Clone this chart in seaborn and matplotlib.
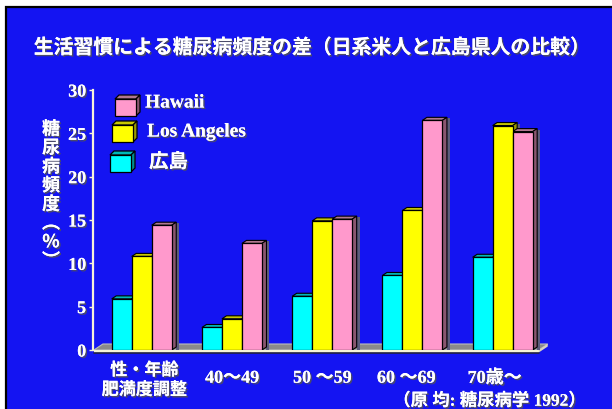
import numpy as np
import pandas as pd
import matplotlib
matplotlib.use("Agg")
import matplotlib.pyplot as plt
import matplotlib.patheffects as pe
from matplotlib.patches import Polygon, Rectangle
from matplotlib.colors import to_hex
import seaborn as sns

# ---- data ----
groups = ["性・年齢\n肥満度調整", "40〜49", "50 〜59", "60 〜69", "70歳〜"]
hiroshima = [5.9, 2.6, 6.2, 8.6, 10.7]
los_angeles = [10.8, 3.6, 14.9, 16.1, 25.9]
hawaii = [14.4, 12.3, 15.1, 26.5, 25.2]
series_names = ["広島", "Los Angeles", "Hawaii"]
legend_order = ["Hawaii", "Los Angeles", "広島"]
yticks = [0, 5, 10, 15, 20, 25, 30]
title = "生活習慣による糖尿病頻度の差（日系米人と広島県人の比較）"
ylabel_chars = list("糖尿病頻度︵%︶")
source = "（原 均: 糖尿病学 1992）"

df = pd.DataFrame({
    "group": groups * 3,
    "series": np.repeat(series_names, len(groups)),
    "value": hiroshima + los_angeles + hawaii,
})

# ---- styling ----
BLUE = "#1414F2"
front = {"広島": "#00FFFF", "Los Angeles": "#FFFF00", "Hawaii": "#FF99CC"}
top = {"広島": "#00B8B8", "Los Angeles": "#C8C800", "Hawaii": "#B07890"}
side = {"広島": "#008C8C", "Los Angeles": "#9A9A00", "Hawaii": "#8A5670"}
CREAM = "#F6F2D8"

sns.set_theme(style="white")
plt.rcParams["font.family"] = ["Liberation Serif", "Noto Sans CJK JP", "DejaVu Sans"]
plt.rcParams["font.weight"] = "bold"

W, H = 612, 410
fig = plt.figure(figsize=(W / 100, H / 100), dpi=100)
fig.patch.set_facecolor("white")

# slide background
fig.add_artist(Rectangle((6 / W, -0.02), 1.05, (H - 8) / H + 0.02,
                         transform=fig.transFigure, facecolor=BLUE,
                         edgecolor="black", linewidth=1.6, zorder=0))

shadow = [pe.withSimplePatchShadow(offset=(1.1, -1.1), shadow_rgbFace="#4a4a6a", alpha=1.0),
          pe.Normal()]
cjk = ["Noto Sans CJK JP", "DejaVu Sans"]
mixed = ["Liberation Serif", "Noto Sans CJK JP", "DejaVu Sans"]

def px(x, y):
    """image pixel coordinates (origin top-left) -> figure fraction"""
    return x / W, 1 - y / H

fig.text(*px(312, 48), title, ha="center", va="center", color="white",
         fontsize=14.3, fontweight="bold", family=cjk, path_effects=shadow)

ax = fig.add_axes([93 / W, 59 / H, 462 / W, 260 / H])
ax.patch.set_alpha(0)

sns.barplot(data=df, x="group", y="value", hue="series", order=groups,
            hue_order=series_names, palette=front, saturation=1, width=0.665,
            edgecolor="black", linewidth=0.9, legend=False, ax=ax, zorder=3)

ax.set_xlim(-0.54, 4.58)
ax.set_ylim(0, 30)

sx = ax.bbox.width / (ax.get_xlim()[1] - ax.get_xlim()[0])
sy = ax.bbox.height / (ax.get_ylim()[1] - ax.get_ylim()[0])
dx, dy = 4.5 / sx, 3.0 / sy

# floor
fl, fr = -0.53, 4.4
fdx, fdy = 9 / sx, 6 / sy
ax.add_patch(Polygon([(fl, 0), (fl + fdx, fdy), (fr + fdx, fdy), (fr, 0)],
                     closed=True, facecolor="#8a8a8a", edgecolor="#bdbdbd",
                     linewidth=0.8, zorder=1, clip_on=False))
ax.add_patch(Rectangle((fl, -2.5 / sy), fr - fl, 2.5 / sy, facecolor=CREAM,
                       edgecolor="none", zorder=1.2, clip_on=False))
ax.add_patch(Polygon([(fr, -2.5 / sy), (fr + fdx, fdy - 2.5 / sy), (fr + fdx, fdy), (fr, 0)],
                     closed=True, facecolor="#d8d4c0", edgecolor="none", zorder=1.2, clip_on=False))
ax.plot([fl, fr], [-3.2 / sy, -3.2 / sy], color="#202040", lw=1.2, zorder=1.2, clip_on=False)

# 3D faces for each bar
color_to_name = {to_hex(c).lower(): n for n, c in front.items()}
for bar in list(ax.patches):
    if not isinstance(bar, Rectangle) or bar.get_height() <= 0:
        continue
    name = color_to_name.get(to_hex(bar.get_facecolor()).lower())
    if name is None:
        continue
    x, w, h = bar.get_x(), bar.get_width(), bar.get_height()
    ax.add_patch(Rectangle((x + w + dx, 0), 3 / sx, h + dy - 1 / sy, facecolor="#5c5c7c",
                           edgecolor="none", zorder=1.5))
    ax.add_patch(Polygon([(x, h), (x + dx, h + dy), (x + w + dx, h + dy), (x + w, h)],
                         closed=True, facecolor=top[name], edgecolor="black",
                         linewidth=0.8, zorder=2))
    ax.add_patch(Polygon([(x + w, 0), (x + w + dx, dy), (x + w + dx, h + dy), (x + w, h)],
                         closed=True, facecolor=side[name], edgecolor="black",
                         linewidth=0.8, zorder=2))

# axes styling
for s in ["top", "right", "bottom"]:
    ax.spines[s].set_visible(False)
ax.spines["left"].set_color(CREAM)
ax.spines["left"].set_linewidth(1.6)
ax.set_yticks(yticks)
ax.set_yticklabels([str(t) for t in yticks], family=mixed, fontsize=13,
                   fontweight="bold", color="white")
for lab in ax.get_yticklabels():
    lab.set_path_effects(shadow)
ax.tick_params(axis="y", length=3, width=1, color=CREAM, pad=2, left=True)
ax.tick_params(axis="x", length=0)
ax.set_xticks([])
ax.set_xlabel("")
ax.set_ylabel("")

# category labels
label_shift = [0.03, 0.0, 0.0, -0.07, -0.09]
for i, g in enumerate(groups):
    two_line = "\n" in g
    yy = (-3.5 if two_line else -3.25)
    ax.text(i + label_shift[i], yy, g, ha="center", va="center", color="white",
            fontsize=12.3 if two_line else 13, fontweight="bold",
            family=mixed, linespacing=1.2, path_effects=shadow, clip_on=False)

# vertical axis title
for k, ch in enumerate(ylabel_chars):
    fig.text(*px(51, 130 + 18.8 * k), ch, ha="center", va="center", color="white",
             fontsize=13, fontweight="bold", family=cjk, path_effects=shadow)

# legend with small cubes
legend_geom = {"Hawaii": (115, 100, 145, 104),
               "Los Angeles": (112, 126, 147, 133),
               "広島": (110, 156, 149, 163)}
for name in legend_order:
    bx, by, tx, ty = legend_geom[name]
    bw, bh, d = 21, 17, 4
    pts_front = [px(bx, by), px(bx + bw, by), px(bx + bw, by + bh), px(bx, by + bh)]
    pts_top = [px(bx, by), px(bx + d, by - d), px(bx + bw + d, by - d), px(bx + bw, by)]
    pts_side = [px(bx + bw, by), px(bx + bw + d, by - d), px(bx + bw + d, by + bh - d), px(bx + bw, by + bh)]
    for pts, col in [(pts_top, top[name]), (pts_side, side[name]), (pts_front, front[name])]:
        fig.add_artist(Polygon(pts, closed=True, transform=fig.transFigure,
                               facecolor=col, edgecolor="black", linewidth=0.9, zorder=3))
    fig.text(*px(tx, ty), name, ha="left", va="center", color="white",
             fontsize=14, fontweight="bold", family=mixed, path_effects=shadow)

fig.text(*px(586, 402), source, ha="right", va="center", color="white",
         fontsize=12.5, fontweight="bold", family=mixed, path_effects=shadow)

fig.savefig("out.png", dpi=100, facecolor=fig.get_facecolor())
